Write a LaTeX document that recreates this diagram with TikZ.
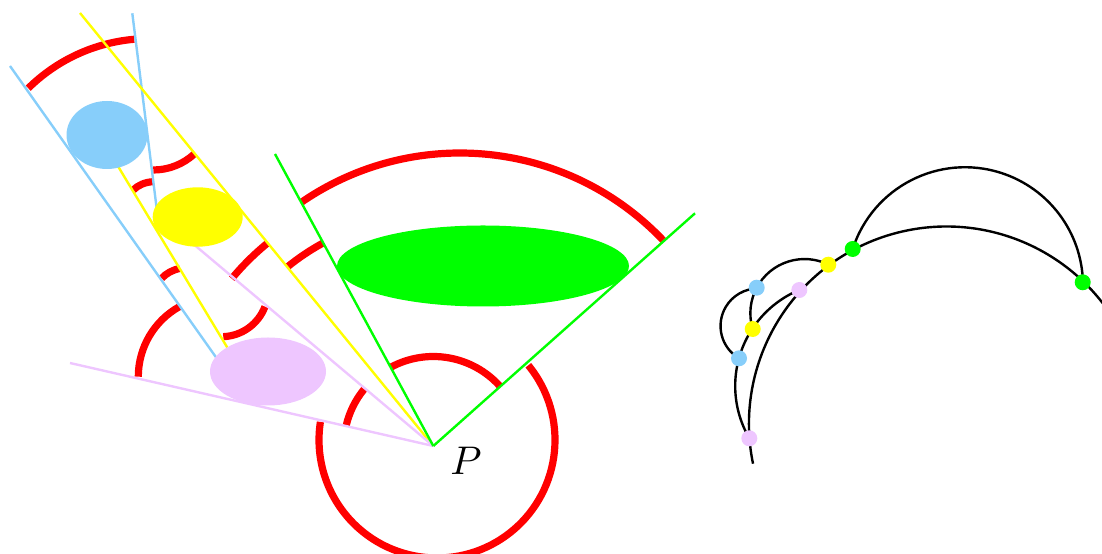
\documentclass[tikz,border=0pt]{standalone}
\usepackage{tikz}
\usetikzlibrary{shapes.geometric, backgrounds}
\definecolor{skyblue}{RGB}{135,206,250}
\definecolor{lilac}{RGB}{238,198,255}
\definecolor{vgreen}{RGB}{0,255,0}
\definecolor{vyellow}{RGB}{255,255,0}

\begin{document}
\begin{tikzpicture}[x=0.25pt, y=-0.25pt,
    front/.style={red, line width=1.8pt},
    ray/.style={line width=0.6pt},
    obj/.style={ellipse, inner sep=0pt},
    geo/.style={black, line width=0.6pt},
    dot/.style={circle, fill=#1, inner sep=0pt, minimum size=4pt}]
    \useasboundingbox (0,0) rectangle (1102,554);
    \coordinate (P) at (433.3,446);

    % fronts
    \draw[front] (149.3,211) ++(-134.6:172.4) arc[start angle=-134.6, end angle=-95, radius=172.4];
    \draw[front] (153.3,109.5) ++(90:60.5) arc[start angle=90, end angle=47.3, radius=60.5];
    \draw[front] (133.3,190) .. controls (137.5,185.5) and (145,182) .. (153.3,181.7);
    \draw[front] (161.7,278.3) .. controls (166,273.5) and (172.5,270) .. (180,268.3);
    \draw[front] (P) ++(-140.3:262) arc[start angle=-140.3, end angle=-129.2, radius=262];
    \draw[front] (P) ++(-129.2:231) arc[start angle=-129.2, end angle=-118.5, radius=231];
    \draw[front] (218.5,376.7) ++(180:80.2) arc[start angle=180, end angle=240.75, radius=80.2];
    \draw[front] (221.4,290.1) ++(87.7:46.6) arc[start angle=87.7, end angle=20.8, radius=46.6];
    \draw[front] (460,433) ++(-124.4:280) arc[start angle=-124.4, end angle=-43.5, radius=280];
    \draw[front] (P) ++(-118.5:89.5) arc[start angle=-118.5, end angle=-41.6, radius=89.5];
    \draw[front] (P) ++(-167.1:89.5) arc[start angle=-167.1, end angle=-140.3, radius=89.5];
    \draw[front] (437,440) ++(-39.3:118) arc[start angle=-39.3, end angle=188.8, radius=118];

    % rays
    \coordinate (b1a) at (10,66);     \coordinate (b1b) at (225,370);
    \coordinate (b2a) at (132.3,13.3); \coordinate (b2b) at (157.5,215);
    \coordinate (y1a) at (80,13);
    \coordinate (y2a) at (110,153);   \coordinate (y2b) at (233,357);
    \coordinate (p1a) at (70,363);    \coordinate (p2a) at (185,237);
    \coordinate (g1a) at (275,154);   \coordinate (g2a) at (695,213.3);
    \draw[ray, skyblue] (b1a) -- (b1b);
    \draw[ray, skyblue] (b2a) -- (b2b);
    \draw[ray, vyellow] (y1a) -- (P);
    \draw[ray, vyellow] (y2a) -- (y2b);
    \draw[ray, lilac] (p1a) -- (P);
    \draw[ray, lilac] (p2a) -- (P);
    \draw[ray, vgreen] (g1a) -- (P);
    \draw[ray, vgreen] (g2a) -- (P);

    % objects
    \node[obj, fill=skyblue, minimum width=20.25pt, minimum height=17pt] (blueobj) at (107,135) {};
    \node[obj, fill=vyellow, minimum width=22.5pt, minimum height=14.85pt] (yellowobj) at (197.7,217) {};
    \node[obj, fill=vgreen, minimum width=73pt, minimum height=20.25pt] (greenobj) at (483,266) {};
    \node[obj, fill=lilac, minimum width=29pt, minimum height=17pt] (pinkobj) at (268,371.5) {};
    \node (Plabel) at (466,461) {$P$};

    % right picture
    \node[dot=vgreen] (gA) at (852.7,249) {};
    \node[dot=vgreen] (gB) at (1082.7,282.3) {};
    \node[dot=vyellow] (yA) at (828.3,264.7) {};
    \node[dot=vyellow] (yB) at (752.7,329) {};
    \node[dot=skyblue] (bA) at (756.7,287.7) {};
    \node[dot=skyblue] (bB) at (739,358.3) {};
    \node[dot=lilac] (pA) at (799.3,290) {};
    \node[dot=lilac] (pB) at (749.3,438.3) {};
    \coordinate (low) at (753,463.7);
    \begin{pgfonlayer}{background}
    \draw[geo] (low) arc[start angle=168.4, end angle=330, radius=197.5];
    \draw[geo] (gA.center) arc[start angle=197.9, end angle=358.6, radius=118];
    \draw[geo] (yB.center) arc[start angle=163.1, end angle=296, radius=54.2];
    \draw[geo] (pB.center) arc[start angle=149.8, end angle=247.4, radius=104];
    \draw[geo] (bB.center) arc[start angle=120.5, end angle=270, radius=37.5];
    \end{pgfonlayer}
\end{tikzpicture}
\end{document}
